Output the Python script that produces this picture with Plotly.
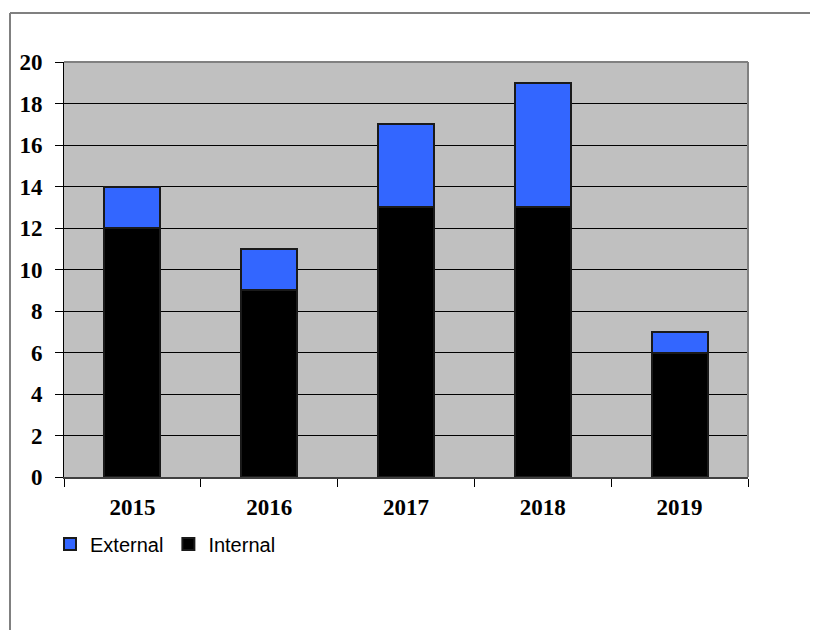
import plotly.graph_objects as go

years = ["2015", "2016", "2017", "2018", "2019"]
internal = [12, 9, 13, 13, 6]
external = [2, 2, 4, 6, 1]
y_ticks = [0, 2, 4, 6, 8, 10, 12, 14, 16, 18, 20]

# page offset of the plotly div (body margin)
OFF = 8
L, R, T, B = 64 - OFF, 748 - OFF, 62 - OFF, 477 - OFF
W, H = 818, 630
pw, ph = R - L, B - T

fig = go.Figure()
fig.add_trace(go.Bar(x=years, y=internal, name="Internal",
                     marker=dict(color="#000000", line=dict(color="#1a1a1a", width=2)),
                     width=0.41))
fig.add_trace(go.Bar(x=years, y=external, name="External",
                     marker=dict(color="#3366FF", line=dict(color="#1a1a1a", width=2)),
                     width=0.41))

def px(x):
    return (x - OFF - L) / pw

def py(y):
    return (B - (y - OFF)) / ph

shapes = [
    dict(type="line", xref="paper", yref="paper", x0=px(10), x1=px(817), y0=py(13), y1=py(13),
         line=dict(color="#808080", width=2)),
    dict(type="line", xref="paper", yref="paper", x0=px(10), x1=px(10), y0=py(13), y1=py(640),
         line=dict(color="#808080", width=2)),
    dict(type="line", xref="paper", yref="paper", x0=0, x1=1, y0=1, y1=1,
         line=dict(color="#808080", width=2), layer="above"),
    dict(type="line", xref="paper", yref="paper", x0=1, x1=1, y0=0, y1=1,
         line=dict(color="#808080", width=2), layer="above"),
]

fig.update_layout(
    width=W, height=H,
    margin=dict(l=L, r=W - R, t=T, b=H - B, pad=0),
    barmode="stack",
    plot_bgcolor="#C0C0C0",
    paper_bgcolor="#FFFFFF",
    showlegend=True,
    legend=dict(orientation="h", x=px(50), y=py(544), xanchor="left", yanchor="middle",
                traceorder="reversed",
                font=dict(family="Liberation Sans", size=20, color="#000000"),
                itemwidth=30, bgcolor="rgba(0,0,0,0)"),
    shapes=shapes,
    xaxis=dict(
        showgrid=False, showline=True, linecolor="#404040", linewidth=2,
        ticks="outside", tickson="boundaries", ticklen=8, tickcolor="#000000", tickwidth=1,
        tickfont=dict(family="Liberation Serif", size=23, color="#000000", weight="bold"),
        ticklabelstandoff=8,
        range=[-0.5, 4.5], fixedrange=True,
    ),
    yaxis=dict(
        range=[0, 20], tickvals=y_ticks, ticktext=[str(v) for v in y_ticks],
        showgrid=True, gridcolor="#000000", gridwidth=1, zeroline=False,
        showline=True, linecolor="#000000", linewidth=1,
        ticks="outside", ticklen=8, tickcolor="#000000",
        tickfont=dict(family="Liberation Serif", size=23, color="#000000", weight="bold"),
        ticklabelstandoff=8,
        fixedrange=True,
    ),
)

fig.write_html("out.html")
